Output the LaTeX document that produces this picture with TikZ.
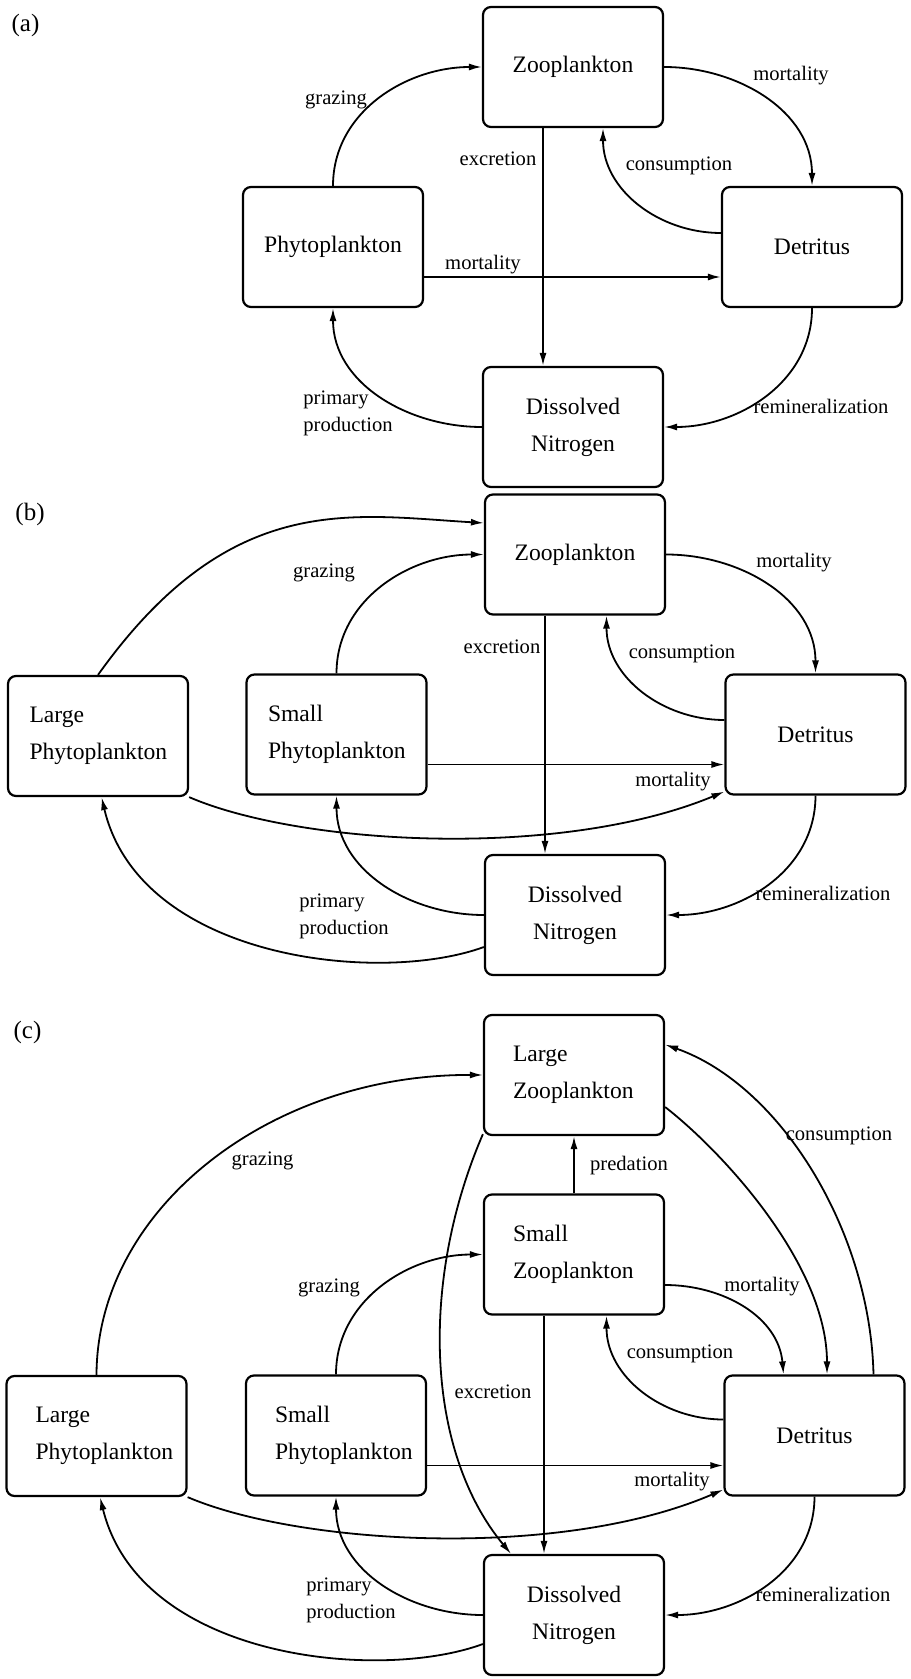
\documentclass[tikz,border=0pt]{standalone}
\usepackage{fontspec}
\setmainfont{Liberation Serif}
\usetikzlibrary{arrows.meta}
\begin{document}
\begin{tikzpicture}[x=0.5pt,y=0.5pt,
  box/.style={draw, line width=1.1pt, rounded corners=4pt, minimum width=90pt, minimum height=60pt, inner sep=0pt, font=\fontsize{11.8}{18.5}\selectfont},
  lboxb/.style={box, align=left, inner xsep=10.75pt, text width=68.5pt},
  lboxc/.style={box, align=left, inner xsep=14.5pt, text width=61pt},
  flow/.style={line width=0.9pt, -{Latex[length=6.5pt,width=3.5pt]}},
  lab/.style={inner sep=0pt, font=\fontsize{10.3}{13.5}\selectfont},
  panel/.style={inner sep=0pt, font=\fontsize{12.5}{15}\selectfont}]
\useasboundingbox[fill=white] (0,0) rectangle (910,-1679);

% ---------------- (a) ----------------
\node[panel] (pa) at (25.5,-25.5) {(a)};
\node[box] (aZ) at (573,-67) {Zooplankton};
\node[box] (aP) at (333,-247) {Phytoplankton};
\node[box] (aD) at (812,-247) {Detritus};
\node[box, align=center] (aN) at (573,-427) {Dissolved\\Nitrogen};

\draw[flow] (aP.north) to[out=90,in=180] (aZ.west);
\draw[flow] (aZ.east) to[out=0,in=90] (aD.north);
\draw[flow] ([xshift=-15pt]aZ.south) -- ([xshift=-15pt]aN.north);
\draw[flow] ([yshift=7pt]aD.west) to[out=180,in=270] ([xshift=15pt]aZ.south);
\draw[flow] ([yshift=-15pt]aP.east) -- ([yshift=-15pt]aD.west);
\draw[flow] (aD.south) to[out=270,in=0] (aN.east);
\draw[flow] (aN.west) to[out=180,in=270] (aP.south);

\node[lab] (la1) at (336,-100) {grazing};
\node[lab] (la2) at (791,-76) {mortality};
\node[lab] (la3) at (498,-159) {excretion};
\node[lab] (la4) at (679,-166) {consumption};
\node[lab] (la5) at (483,-265) {mortality};
\node[lab] (la6) at (821,-406) {remineralization};
\node[lab, align=left, anchor=west] (la7) at (303,-413.5) {primary\\production};

% ---------------- (b) ----------------
\node[panel] (pb) at (30,-514) {(b)};
\node[box] (bZ) at (575,-554.5) {Zooplankton};
\node[lboxb] (bL) at (98,-736) {Large\\Phytoplankton};
\node[lboxb] (bS) at (336.5,-734.5) {Small\\Phytoplankton};
\node[box] (bD) at (815.5,-734.5) {Detritus};
\node[box, align=center] (bN) at (575,-915) {Dissolved\\Nitrogen};

\draw[flow] (bL.north) .. controls (230,-490) and (350,-515) .. ([yshift=15.75pt]bZ.west);
\draw[flow] (bS.north) to[out=90,in=180] (bZ.west);
\draw[flow] (bZ.east) to[out=0,in=90] (bD.north);
\draw[flow] ([xshift=-15pt]bZ.south) -- ([xshift=-15pt]bN.north);
\draw[flow] ([yshift=7.25pt]bD.west) to[out=180,in=270] ([xshift=15.75pt]bZ.south);
\draw[flow] ([yshift=-15pt]bS.east) -- ([yshift=-15pt]bD.west);
\draw[flow] (bL.south east) .. controls (300,-845) and (560,-860) .. ([yshift=2pt]bD.south west);
\draw[flow] (bD.south) to[out=270,in=0] (bN.east);
\draw[flow] (bN.west) to[out=180,in=270] (bS.south);
\draw[flow] ([yshift=-16pt]bN.west) .. controls (380,-985) and (140,-960) .. ([xshift=1.75pt]bL.south);

\node[lab] (lb1) at (324,-573) {grazing};
\node[lab] (lb2) at (794,-563) {mortality};
\node[lab] (lb3) at (502,-647) {excretion};
\node[lab] (lb4) at (682,-654) {consumption};
\node[lab] (lb5) at (673,-782) {mortality};
\node[lab] (lb6) at (823,-893) {remineralization};
\node[lab, align=left, anchor=west] (lb7) at (299,-916.5) {primary\\production};

% ---------------- (c) ----------------
\node[panel] (pc) at (27.5,-1032.6) {(c)};
\node[lboxc] (cLZ) at (574,-1075) {Large\\Zooplankton};
\node[lboxc] (cSZ) at (574,-1254.5) {Small\\Zooplankton};
\node[lboxc] (cL) at (96.5,-1436) {Large\\Phytoplankton};
\node[lboxc] (cS) at (336,-1435.5) {Small\\Phytoplankton};
\node[box] (cD) at (814.5,-1435.5) {Detritus};
\node[box, align=center] (cN) at (574,-1615) {Dissolved\\Nitrogen};

\draw[flow] (cL.north) .. controls (97,-1209) and (270,-1074) .. (cLZ.west);
\draw[flow] (cS.north) to[out=90,in=180] (cSZ.west);
\draw[flow] (cSZ.north) -- (cLZ.south);
\draw[flow] ([xshift=29.5pt]cD.north) .. controls (870,-1230) and (780,-1085) .. ([yshift=15.2pt]cLZ.east);
\draw[flow] ([yshift=-16pt]cLZ.east) .. controls (723,-1152) and (827,-1265) .. ([xshift=6.25pt]cD.north);
\draw[flow] ([yshift=-15.25pt]cSZ.east) to[out=0,in=95] ([xshift=-15.5pt]cD.north);
\draw[flow] ([yshift=8pt]cD.west) to[out=180,in=270] ([xshift=16.25pt]cSZ.south);
\draw[flow] ([xshift=-15pt]cSZ.south) -- ([xshift=-15pt]cN.north);
\draw[flow] ([yshift=1pt]cLZ.south west) .. controls (420,-1280) and (425,-1450) .. ([xshift=-31.5pt]cN.north);
\draw[flow] ([yshift=-15pt]cS.east) -- ([yshift=-15pt]cD.west);
\draw[flow] (cL.south east) .. controls (300,-1545) and (560,-1560) .. ([yshift=3.5pt]cD.south west);
\draw[flow] (cD.south) to[out=270,in=0] (cN.east);
\draw[flow] (cN.west) to[out=180,in=270] (cS.south);
\draw[flow] ([yshift=-14.5pt]cN.west) .. controls (380,-1682) and (140,-1660) .. ([xshift=1.75pt]cL.south);

\node[lab] (lc1) at (262.5,-1160.6) {grazing};
\node[lab] (lc2) at (329,-1287.6) {grazing};
\node[lab] (lc3) at (629,-1166) {predation};
\node[lab] (lc4) at (839,-1136) {consumption};
\node[lab] (lc5) at (762,-1286.7) {mortality};
\node[lab] (lc6) at (680,-1353.6) {consumption};
\node[lab] (lc7) at (493,-1392) {excretion};
\node[lab] (lc8) at (672,-1481.6) {mortality};
\node[lab] (lc9) at (823,-1594) {remineralization};
\node[lab, align=left, anchor=west] (lc10) at (306,-1600.5) {primary\\production};
\end{tikzpicture}
\end{document}
